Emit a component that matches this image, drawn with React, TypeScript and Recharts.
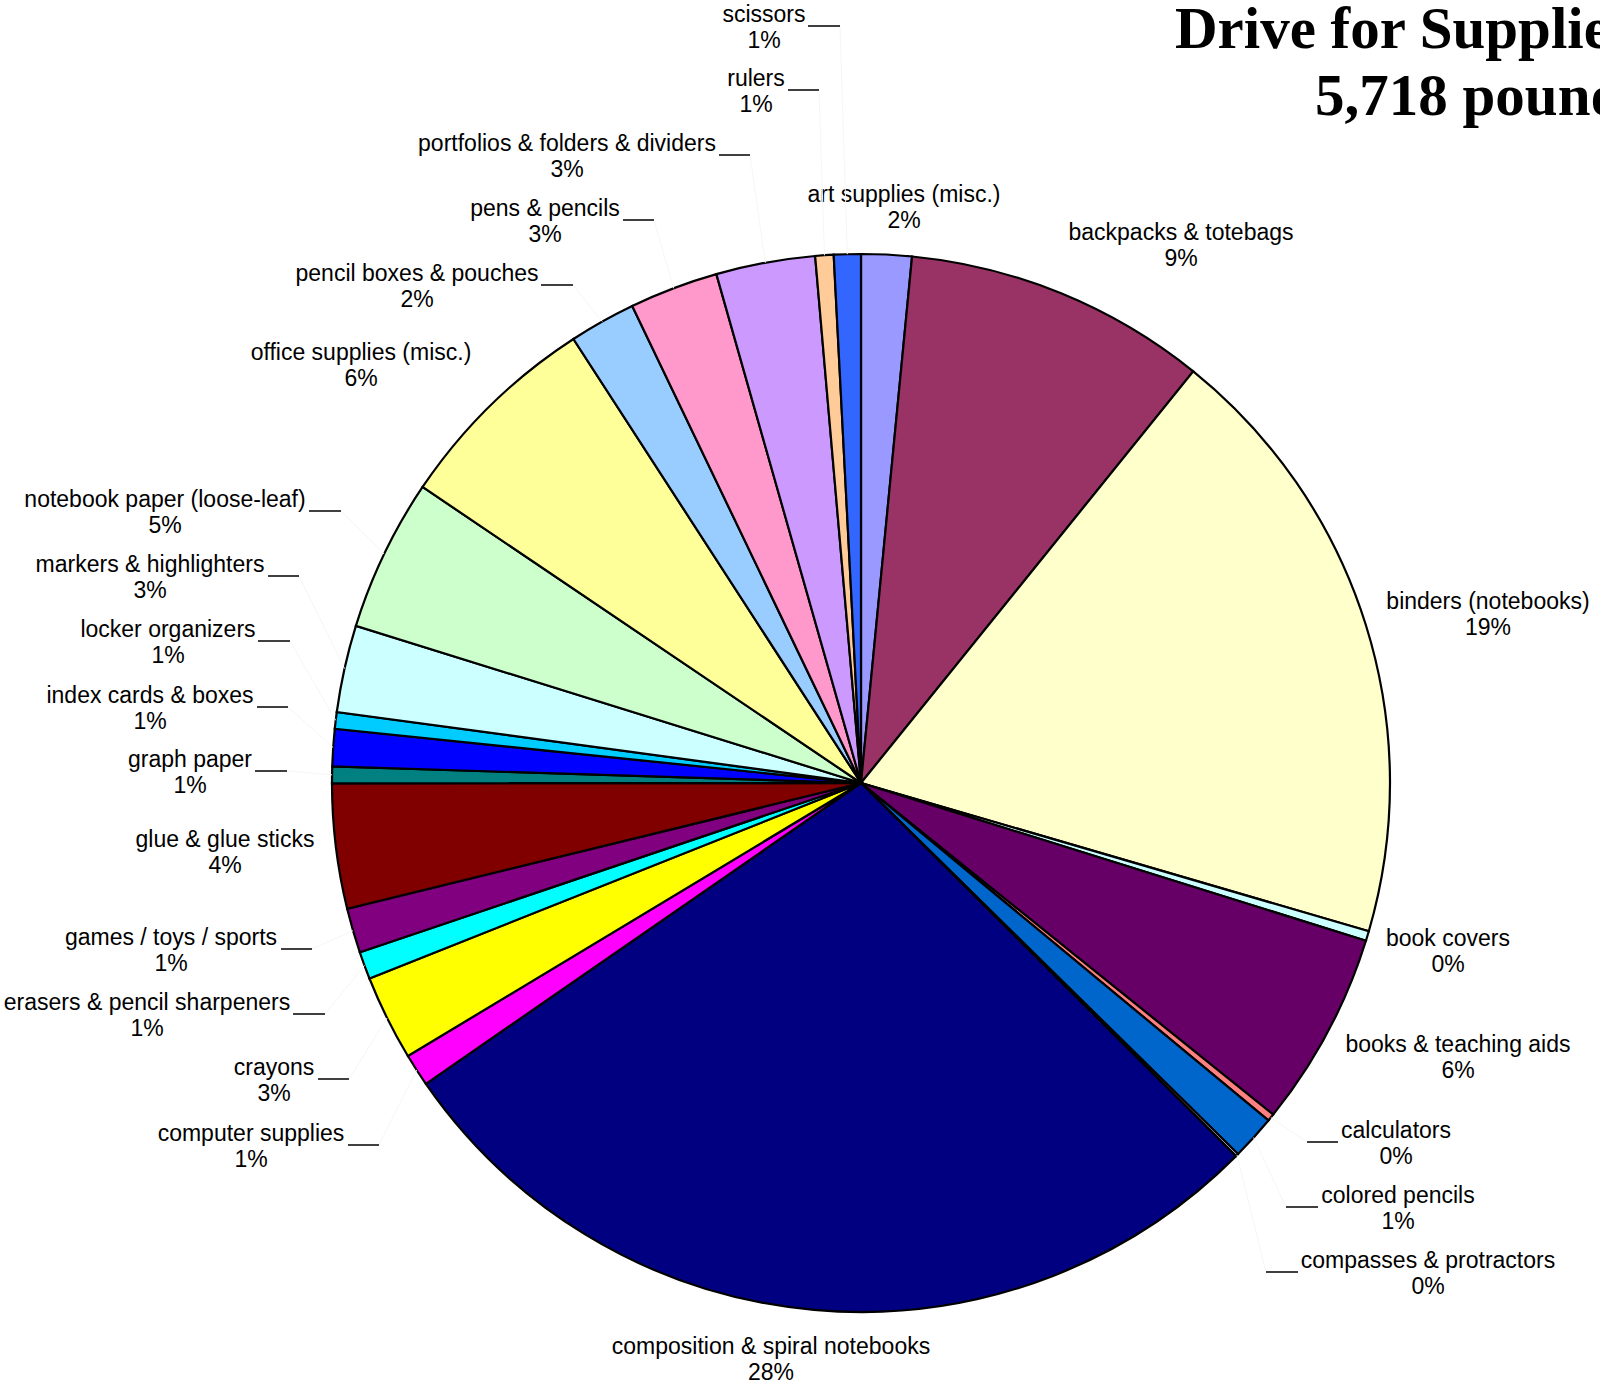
import { PieChart, Pie, Cell } from 'recharts';

// 25 categories, clockwise from 12 o'clock (alphabetical, as in the source workbook)
const categories = [
  'art supplies (misc.)',
  'backpacks & totebags',
  'binders (notebooks)',
  'book covers',
  'books & teaching aids',
  'calculators',
  'colored pencils',
  'compasses & protractors',
  'composition & spiral notebooks',
  'computer supplies',
  'crayons',
  'erasers & pencil sharpeners',
  'games / toys / sports',
  'glue & glue sticks',
  'graph paper',
  'index cards & boxes',
  'locker organizers',
  'markers & highlighters',
  'notebook paper (loose-leaf)',
  'office supplies (misc.)',
  'pencil boxes & pouches',
  'pens & pencils',
  'portfolios & folders & dividers',
  'rulers',
  'scissors',
];

const pounds = [
  88, 530, 1070, 17, 341, 13, 78, 5, 1596, 57, 149, 48, 78, 218, 29, 65, 29, 152, 266, 366, 116,
  155, 173, 32, 47,
];

// Excel 2003 default pie palette
const colors = [
  '#9999FF', '#993366', '#FFFFCC', '#CCFFFF', '#660066', '#FF8080', '#0066CC', '#CCCCFF',
  '#000080', '#FF00FF', '#FFFF00', '#00FFFF', '#800080', '#800000', '#008080', '#0000FF',
  '#00CCFF', '#CCFFFF', '#CCFFCC', '#FFFF99', '#99CCFF', '#FF99CC', '#CC99FF', '#FFCC99',
  '#3366FF',
];

const data = categories.map((name, i) => ({ name, value: pounds[i] }));

// where each (hand placed) data label sits: centre of the name, baseline, leader stub
const labelLayout: { x: number; y: number; lead?: [number, number] }[] = [
  { x: 904, y: 202 },
  { x: 1181, y: 240 },
  { x: 1488, y: 609 },
  { x: 1448, y: 946 },
  { x: 1458, y: 1052 },
  { x: 1396, y: 1138, lead: [1307, 1338] },
  { x: 1398, y: 1203, lead: [1286, 1318] },
  { x: 1428, y: 1268, lead: [1266, 1298] },
  { x: 771, y: 1354 },
  { x: 251, y: 1141, lead: [348, 379] },
  { x: 274, y: 1075, lead: [318, 349] },
  { x: 147, y: 1010, lead: [293, 325] },
  { x: 171, y: 945, lead: [281, 312] },
  { x: 225, y: 847 },
  { x: 190, y: 767, lead: [255, 287] },
  { x: 150, y: 703, lead: [257, 288] },
  { x: 168, y: 637, lead: [258, 290] },
  { x: 150, y: 572, lead: [268, 299] },
  { x: 165, y: 507, lead: [309, 341] },
  { x: 361, y: 360 },
  { x: 417, y: 281, lead: [541, 573] },
  { x: 545, y: 216, lead: [623, 654] },
  { x: 567, y: 151, lead: [719, 750] },
  { x: 756, y: 86, lead: [788, 819] },
  { x: 764, y: 22, lead: [808, 840] },
];

const RAD = Math.PI / 180;
const FONT = '"Liberation Sans", Arial, sans-serif';

const renderLabel = (props: any) => {
  const { cx, cy, midAngle, outerRadius, percent, index, name } = props;
  const pos = labelLayout[index];
  if (!pos) return null;
  const pct = `${Math.round(percent * 100)}%`;

  let stub = null;
  let faint = null;
  if (pos.lead) {
    const [x1, x2] = pos.lead;
    const ly = pos.y + 4;
    const ex = cx + outerRadius * Math.cos(-midAngle * RAD);
    const ey = cy + outerRadius * Math.sin(-midAngle * RAD);
    // the end nearest the pie
    const sx = Math.abs(x1 - ex) < Math.abs(x2 - ex) ? x1 : x2;
    stub = <line x1={x1} y1={ly} x2={x2} y2={ly} stroke="#000" strokeWidth={1.5} />;
    faint = <line x1={sx} y1={ly} x2={ex} y2={ey} stroke="#f6f6f6" strokeWidth={1} />;
  }

  return (
    <g key={`lbl-${index}`}>
      {faint}
      {stub}
      <text x={pos.x} y={pos.y} textAnchor="middle" fontFamily={FONT} fontSize={23} fill="#000">
        {name}
      </text>
      <text x={pos.x} y={pos.y + 26} textAnchor="middle" fontFamily={FONT} fontSize={23} fill="#000">
        {pct}
      </text>
    </g>
  );
};

export default function App() {
  return (
    <div
      style={{
        position: 'absolute',
        left: 0,
        top: 0,
        width: 1600,
        height: 1384,
        overflow: 'hidden',
        background: '#fff',
      }}
    >
      <PieChart width={1600} height={1384} margin={{ top: 0, right: 0, bottom: 0, left: 0 }}>
        <Pie
          data={data}
          dataKey="value"
          nameKey="name"
          cx={861}
          cy={783}
          outerRadius={529}
          startAngle={90}
          endAngle={-270}
          stroke="#000"
          strokeWidth={2.2}
          label={renderLabel}
          labelLine={false}
          isAnimationActive={false}
        >
          {data.map((d, i) => (
            <Cell key={d.name} fill={colors[i]} />
          ))}
        </Pie>
      </PieChart>

      {/* title – runs off the right edge in the original too */}
      <svg
        width={1600}
        height={1384}
        style={{ position: 'absolute', left: 0, top: 0, pointerEvents: 'none' }}
      >
        <text
          x={1175}
          y={48}
          fontFamily='"Liberation Serif", "Times New Roman", serif'
          fontWeight="bold"
          fontSize={59}
          fill="#000"
        >
          Drive for Supplies
        </text>
        <text
          x={1315}
          y={115}
          fontFamily='"Liberation Serif", "Times New Roman", serif'
          fontWeight="bold"
          fontSize={59}
          fill="#000"
        >
          5,718 pounds
        </text>
      </svg>
    </div>
  );
}
